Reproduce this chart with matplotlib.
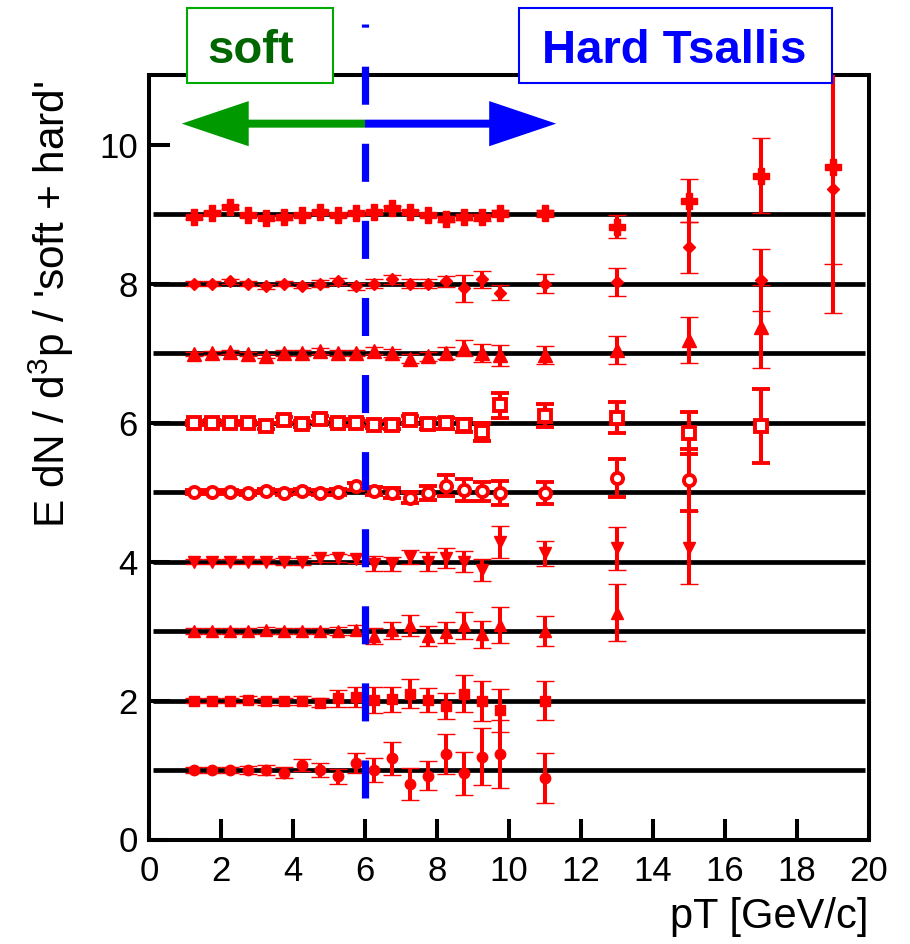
import numpy as np
import matplotlib
matplotlib.use('Agg')
import matplotlib.pyplot as plt
from matplotlib.patches import Rectangle

plt.rcParams['font.family'] = ['Liberation Sans', 'DejaVu Sans']
plt.rcParams['mathtext.fontset'] = 'custom'
plt.rcParams['mathtext.rm'] = 'Liberation Sans'
plt.rcParams['mathtext.it'] = 'Liberation Sans'
plt.rcParams['lines.scale_dashes'] = False

# pT bin centres
pt_low = [1.25, 1.75, 2.25, 2.75, 3.25, 3.75, 4.25, 4.75, 5.25, 5.75,
          6.25, 6.75, 7.25, 7.75, 8.25, 8.75, 9.25, 9.75, 11.0]
pt_high = [13.0, 15.0, 17.0, 19.0]

# ratio data / (soft + hard), each centrality shifted by +1
val_9 = [8.95, 9.02, 9.10, 8.99, 8.94, 8.95, 8.98, 9.03, 8.99, 9.01,
         9.03, 9.09, 9.03, 8.98, 8.93, 8.96, 8.95, 9.01, 9.01, 8.82, 9.19, 9.55, 9.68]
err_9 = [0.02, 0.02, 0.03, 0.03, 0.03, 0.03, 0.03, 0.03, 0.03, 0.03,
         0.03, 0.03, 0.03, 0.03, 0.04, 0.04, 0.05, 0.05, 0.05, 0.17, 0.31, 0.54, 1.40]
val_8 = [8.00, 8.00, 8.03, 8.00, 7.96, 8.00, 7.97, 8.00, 8.03, 7.96,
         8.00, 8.06, 8.00, 8.00, 8.03, 7.93, 8.06, 7.87, 8.00, 8.02, 8.52, 8.05, 9.36]
err_8 = [0.04, 0.04, 0.04, 0.04, 0.04, 0.04, 0.04, 0.05, 0.05, 0.05,
         0.06, 0.06, 0.07, 0.07, 0.08, 0.19, 0.12, 0.11, 0.13, 0.20, 0.37, 0.45, 1.78]
val_7 = [6.98, 7.00, 7.02, 6.98, 6.96, 7.00, 7.00, 7.03, 7.00, 7.00,
         7.03, 7.00, 6.92, 6.95, 7.00, 7.07, 7.00, 6.97, 6.97, 7.04, 7.19, 7.38]
err_7 = [0.03, 0.03, 0.03, 0.03, 0.03, 0.04, 0.04, 0.04, 0.04, 0.05,
         0.05, 0.06, 0.06, 0.07, 0.08, 0.12, 0.13, 0.15, 0.13, 0.20, 0.33, 0.60]
val_6 = [5.99, 6.00, 5.99, 5.99, 5.95, 6.04, 5.98, 6.05, 6.00, 6.00,
         5.97, 5.97, 6.04, 5.98, 5.99, 5.96, 5.86, 6.25, 6.10, 6.07, 5.85, 5.95]
err_6 = [0.03, 0.03, 0.03, 0.03, 0.04, 0.04, 0.04, 0.04, 0.05, 0.05,
         0.05, 0.06, 0.06, 0.07, 0.08, 0.09, 0.13, 0.18, 0.16, 0.22, 0.30, 0.53]
val_5 = [5.00, 5.00, 5.00, 4.99, 5.01, 4.99, 5.01, 4.99, 5.00, 5.08,
         5.01, 4.99, 4.92, 4.99, 5.09, 5.03, 5.01, 4.99, 4.99, 5.20, 5.17]
err_5 = [0.03, 0.03, 0.03, 0.03, 0.03, 0.04, 0.04, 0.04, 0.05, 0.05,
         0.06, 0.07, 0.08, 0.10, 0.15, 0.16, 0.14, 0.17, 0.16, 0.27, 0.45]
val_4 = [4.00, 4.00, 4.00, 4.00, 4.00, 4.00, 4.00, 4.05, 4.05, 4.04,
         3.97, 3.97, 4.07, 4.00, 4.05, 4.00, 3.88, 4.28, 4.12, 4.19, 4.20]
err_4 = [0.04, 0.04, 0.04, 0.04, 0.04, 0.05, 0.05, 0.05, 0.06, 0.06,
         0.11, 0.10, 0.10, 0.13, 0.14, 0.15, 0.16, 0.23, 0.18, 0.31, 0.52]
val_3 = [3.00, 3.00, 3.00, 3.00, 3.01, 3.00, 3.00, 3.00, 3.00, 3.01,
         2.93, 3.01, 3.08, 2.93, 2.98, 3.08, 2.95, 3.09, 3.00, 3.26]
err_3 = [0.04, 0.04, 0.04, 0.04, 0.05, 0.05, 0.05, 0.05, 0.06, 0.07,
         0.11, 0.12, 0.15, 0.14, 0.15, 0.19, 0.20, 0.26, 0.21, 0.41]
val_2 = [2.00, 2.00, 2.00, 2.01, 1.99, 1.99, 2.00, 1.97, 2.03, 2.05,
         2.01, 2.02, 2.10, 2.01, 1.92, 2.10, 1.99, 1.86, 2.00]
err_2 = [0.04, 0.04, 0.04, 0.05, 0.05, 0.05, 0.06, 0.06, 0.12, 0.14,
         0.19, 0.18, 0.21, 0.17, 0.19, 0.26, 0.29, 0.31, 0.28]
val_1 = [1.00, 1.00, 1.00, 1.00, 1.00, 0.96, 1.07, 1.00, 0.91, 1.10,
         1.00, 1.17, 0.80, 0.92, 1.23, 0.95, 1.19, 1.23, 0.88]
err_1 = [0.05, 0.05, 0.05, 0.06, 0.07, 0.08, 0.09, 0.10, 0.11, 0.15,
         0.17, 0.24, 0.23, 0.21, 0.29, 0.31, 0.41, 0.49, 0.36]

levels = [1, 2, 3, 4, 5, 6, 7, 8, 9]
split_pt = 6.0

# (values, errors, marker, size, filled)
series = [
    (val_1, err_1, 'o', 7.5, True),
    (val_2, err_2, 's', 7.5, True),
    (val_3, err_3, '^', 8, True),
    (val_4, err_4, 'v', 8, True),
    (val_5, err_5, 'o', 8, False),
    (val_6, err_6, 's', 8.5, False),
    (val_7, err_7, '^', 9.5, True),
    (val_8, err_8, 'D', 6.5, True),
    (val_9, err_9, 'P', 11.5, True),
]

red = '#ff0000'
fig = plt.figure(figsize=(9.1, 9.44), dpi=100)
ax = fig.add_axes([149 / 910, 1 - 839.5 / 944, 720 / 910, 764.5 / 944])

ax.hlines(levels, 0.1, 19.9, color='k', lw=3.4, zorder=2)

for vals, errs, mk, ms, filled in series:
    pts = (pt_low + pt_high)[:len(vals)]
    ax.errorbar(pts, vals, yerr=errs, fmt=mk, ms=ms, color=red,
                mfc=red if filled else 'white', mec=red,
                mew=2.8 if not filled else 1, ecolor=red, elinewidth=2.9,
                capsize=6.5, capthick=2.9, zorder=3)

# soft / hard separation
ax.plot([split_pt, split_pt], [0.6, 11.73], color='#0000ff', lw=5.2,
        dashes=(27.4, 28.1), solid_capstyle='butt', dash_capstyle='butt',
        clip_on=False, zorder=4)

arrow_y = 10.3
ax.arrow(split_pt, arrow_y, 0.91 - split_pt, 0, width=0.115, head_width=0.65,
         head_length=1.86, length_includes_head=True, color='#009900', lw=0,
         zorder=5)
ax.arrow(split_pt, arrow_y, 11.31 - split_pt, 0, width=0.115, head_width=0.65,
         head_length=1.86, length_includes_head=True, color='#0000ff', lw=0,
         zorder=5)

ax.add_patch(Rectangle((1.06, 10.88), 4.05, 1.08, facecolor='white',
                       edgecolor='#00aa00', lw=1.5, clip_on=False, zorder=10))
ax.text(1.62, 11.17, 'soft', color='#006600', fontsize=34, fontweight='bold',
        va='baseline', ha='left', zorder=11)
ax.add_patch(Rectangle((10.28, 10.88), 8.69, 1.08, facecolor='white',
                       edgecolor='#0000ff', lw=1.5, clip_on=False, zorder=10))
ax.text(10.92, 11.17, 'Hard Tsallis', color='#0000ff', fontsize=34,
        fontweight='bold', va='baseline', ha='left', zorder=11)

ax.set_xlim(0, 20)
ax.set_ylim(0, 11)
ax.set_xticks(np.arange(0, 21, 2))
ax.set_yticks(np.arange(0, 11, 2))
ax.tick_params(axis='both', direction='in', length=15, width=2.9,
               labelsize=25)
ax.tick_params(axis='x', pad=11)
ax.tick_params(axis='y', pad=8)
for sp in ax.spines.values():
    sp.set_linewidth(2.9)

ax.text(-0.135, 0.993, "E dN / d$^{3}$p / 'soft + hard'", rotation=90,
        transform=ax.transAxes, ha='center', va='top', fontsize=30.5)
ax.text(1.0, -0.116, 'pT [GeV/c]', transform=ax.transAxes, ha='right',
        va='baseline', fontsize=30)

fig.savefig('out.png', dpi=100)
